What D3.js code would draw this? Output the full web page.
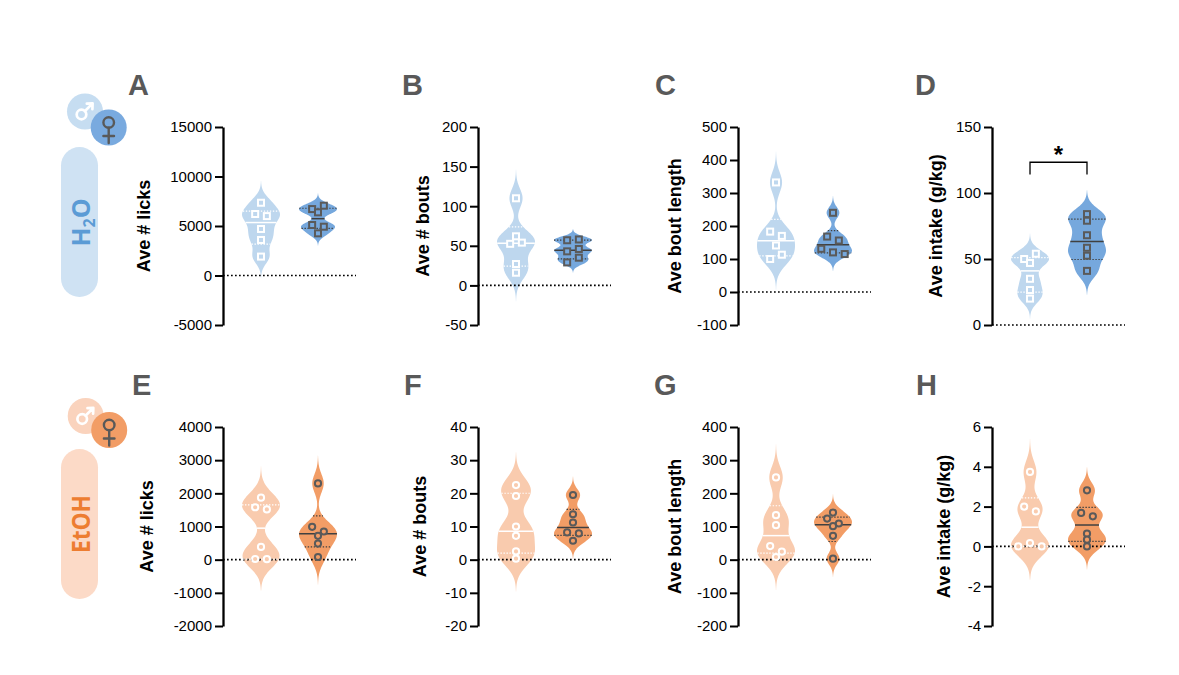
<!DOCTYPE html>
<html>
<head>
<meta charset="utf-8">
<script src="https://cdn.jsdelivr.net/npm/d3@7"></script>
<style>
  body { margin: 0; background: #fff; }
  svg { display: block; }
  text { font-family: "Liberation Sans", Arial, sans-serif; }
</style>
</head>
<body>
<svg width="1179" height="675"></svg>
<script>
// ---- data (male, female) ----
// H2O row
const licksH2O_M   = [7350, 6210, 6000, 4700, 3590, 1910];
const licksH2O_F   = [6710, 7050, 6380, 5100, 4930, 4260];
const boutsH2O_M   = [110, 62, 52.5, 54, 27, 16];
const boutsH2O_F   = [57, 58, 43, 46, 29, 35];
const boutLenH2O_M = [332, 183, 170, 141, 100, 113];
const boutLenH2O_F = [240, 168, 156, 131, 120, 115];
const intakeH2O_M  = [50, 54, 47, 35, 26.5, 20];
const intakeH2O_F  = [84, 79, 68, 58.5, 52.5, 41];
// EtOH row
const licksEtOH_M   = [1870, 1580, 1515, 385, 20, 15];
const licksEtOH_F   = [2300, 990, 850, 720, 485, 80];
const boutsEtOH_M   = [22.5, 19.2, 10, 7.2, 2.5, 0.3];
const boutsEtOH_F   = [19.5, 13.7, 11.2, 8.2, 7.9, 5.7];
const boutLenEtOH_M = [248, 134, 104, 41, 24, 8];
const boutLenEtOH_F = [142, 124, 109, 101, 72, 3];
const intakeEtOH_M  = [3.74, 2.0, 1.76, 0, 0.17, 0];
const intakeEtOH_F  = [2.82, 1.68, 1.51, 0.64, 0.34, 0];

const groups = ["M", "F"];
const yTitles = ["Ave # licks", "Ave # bouts", "Ave bout length", "Ave intake (g/kg)"];
const ticksH2O = [
  [-5000, 0, 5000, 10000, 15000],
  [-50, 0, 50, 100, 150, 200],
  [-100, 0, 100, 200, 300, 400, 500],
  [0, 50, 100, 150]
];
const ticksEtOH = [
  [-2000, -1000, 0, 1000, 2000, 3000, 4000],
  [-20, -10, 0, 10, 20, 30, 40],
  [-200, -100, 0, 100, 200, 300, 400],
  [-4, -2, 0, 2, 4, 6]
];
const lettersH2O = ["A", "B", "C", "D"];
const lettersEtOH = ["E", "F", "G", "H"];
// significance: panel D, male vs female
const sigLabel = "*";
const sigBracket = [114, 123.3];

// ---- layout ----
const svg = d3.select("svg");
const axisX = [223, 478, 738, 992];
const plotW = 133;
const rows = [
  {
    top: 127, bottom: 325, letterY: 95,
    letterX: [128, 402, 655, 915], titleDx: [-73, -49, -57, -50],
    data: [[licksH2O_M, licksH2O_F], [boutsH2O_M, boutsH2O_F], [boutLenH2O_M, boutLenH2O_F], [intakeH2O_M, intakeH2O_F]],
    ticks: ticksH2O, letters: lettersH2O,
    fill: ["#bed7ee", "#76a8dd"], marker: "square"
  },
  {
    top: 427, bottom: 626, letterY: 395,
    letterX: [132, 404, 654, 916], titleDx: [-70, -52, -57, -42],
    data: [[licksEtOH_M, licksEtOH_F], [boutsEtOH_M, boutsEtOH_F], [boutLenEtOH_M, boutLenEtOH_F], [intakeEtOH_M, intakeEtOH_F]],
    ticks: ticksEtOH, letters: lettersEtOH,
    fill: ["#f9cbae", "#f29d66"], marker: "circle"
  }
];
const lineCol = ["#ffffff", "#404040"];
const markStroke = ["#ffffff", "#5a5a5a"];
const halfW = 19;

// quartiles the way Prism does them: position p*(n+1)
function quant(sorted, p) {
  const n = sorted.length, pos = p * (n + 1);
  if (pos <= 1) return sorted[0];
  if (pos >= n) return sorted[n - 1];
  const i = Math.floor(pos);
  return sorted[i - 1] + (pos - i) * (sorted[i] - sorted[i - 1]);
}

// gaussian kernel density, bandwidth = half of Silverman's rule
function kde(values) {
  const sd = d3.deviation(values);
  const h = 0.5 * 1.06 * sd * Math.pow(values.length, -0.2);
  const f = v => d3.sum(values, x => Math.exp(-0.5 * ((v - x) / h) ** 2));
  const lo = d3.min(values) - 3 * h, hi = d3.max(values) + 3 * h;
  const pts = d3.range(161).map(i => lo + (hi - lo) * i / 160);
  const maxD = d3.max(pts, f);
  return { pts, w: v => f(v) / maxD };
}

// group close points into rows and spread them sideways
function swarm(values, y) {
  const ps = values.map((v, i) => ({ v, i, py: y(v) })).sort((a, b) => a.py - b.py);
  const bins = [];
  let cur = null;
  ps.forEach(p => {
    if (cur && p.py - cur[0].py < 5.8) cur.push(p);
    else { cur = [p]; bins.push(cur); }
  });
  bins.forEach(b => {
    b.sort((a, c) => a.i - c.i);
    b.forEach((p, k) => p.dx = (k - (b.length - 1) / 2) * 11.7);
  });
  return ps;
}

rows.forEach((row, r) => {
  row.data.forEach((pair, c) => {
    const ax = axisX[c];
    const ticks = row.ticks[c];
    const y = d3.scaleLinear().domain(d3.extent(ticks)).range([row.bottom, row.top]);
    const x = d3.scalePoint().domain(groups).range([ax, ax + plotW]).padding(0.667);
    const g = svg.append("g");

    // violins
    pair.forEach((vals, k) => {
      const cx = x(groups[k]);
      const d = kde(vals);
      g.append("path")
        .attr("d", d3.area()
          .y(v => y(v))
          .x0(v => cx - halfW * d.w(v))
          .x1(v => cx + halfW * d.w(v))(d.pts))
        .attr("fill", row.fill[k]);
    });

    // zero line
    g.append("line")
      .attr("x1", ax).attr("x2", ax + plotW)
      .attr("y1", y(0)).attr("y2", y(0))
      .attr("stroke", "#000").attr("stroke-width", 1.7)
      .attr("stroke-dasharray", "1.7,2.3");

    // median + quartiles
    pair.forEach((vals, k) => {
      const cx = x(groups[k]);
      const d = kde(vals);
      const s = vals.slice().sort(d3.ascending);
      [[0.25, true], [0.5, false], [0.75, true]].forEach(([p, dotted]) => {
        const q = quant(s, p);
        const hw = halfW * d.w(q);
        g.append("line")
          .attr("x1", cx - hw).attr("x2", cx + hw)
          .attr("y1", y(q)).attr("y2", y(q))
          .attr("stroke", lineCol[k])
          .attr("stroke-width", dotted ? 1.2 : 1.5)
          .attr("stroke-dasharray", dotted ? "1.4,1.6" : null);
      });
    });

    // points
    pair.forEach((vals, k) => {
      const cx = x(groups[k]);
      const pts = swarm(vals, y);
      const sel = g.append("g")
        .attr("fill", row.fill[k])
        .attr("stroke", markStroke[k])
        .attr("stroke-width", 2);
      if (row.marker === "square") {
        sel.selectAll("rect").data(pts).enter().append("rect")
          .attr("x", p => cx + p.dx - 3).attr("y", p => p.py - 3)
          .attr("width", 6).attr("height", 6);
      } else {
        sel.selectAll("circle").data(pts).enter().append("circle")
          .attr("cx", p => cx + p.dx).attr("cy", p => p.py).attr("r", 3.1);
      }
    });

    // axis
    const axis = g.append("g")
      .attr("transform", `translate(${ax},0)`)
      .call(d3.axisLeft(y).tickValues(ticks).tickSize(8).tickSizeOuter(0).tickPadding(3));
    axis.select(".domain").attr("stroke", "#000").attr("stroke-width", 2.3);
    axis.selectAll(".tick line").attr("stroke", "#000").attr("stroke-width", 2);
    axis.selectAll(".tick text")
      .attr("fill", "#000")
      .style("font-size", "15px")
      .style("font-family", '"Liberation Sans", Arial, sans-serif')
      .text(t => t < 0 ? "-" + Math.abs(t) : t);

    // y title
    g.append("text")
      .attr("transform", `translate(${ax + row.titleDx[c]},${(row.top + row.bottom) / 2}) rotate(-90)`)
      .attr("text-anchor", "middle")
      .style("font-size", "18px").style("font-weight", "bold")
      .attr("fill", "#000")
      .text(yTitles[c]);

    // panel letter
    g.append("text")
      .attr("x", row.letterX[c]).attr("y", row.letterY)
      .style("font-size", "29px").style("font-weight", "bold")
      .attr("fill", "#595959")
      .text(row.letters[c]);

    // significance bracket on intake (water)
    if (r === 0 && c === 3) {
      const x0 = x("M"), x1 = x("F");
      g.append("path")
        .attr("d", `M${x0},${y(sigBracket[0])}V${y(sigBracket[1])}H${x1}V${y(sigBracket[0])}`)
        .attr("fill", "none").attr("stroke", "#000").attr("stroke-width", 1.3);
      g.append("text")
        .attr("x", (x0 + x1) / 2).attr("y", y(sigBracket[1]) + 1)
        .attr("text-anchor", "middle")
        .style("font-size", "24px").style("font-weight", "bold")
        .text(sigLabel);
    }
  });
});

// ---- left side badges ----
function badge(cfg) {
  const g = svg.append("g");
  g.append("rect")
    .attr("x", 61).attr("y", cfg.pillY).attr("width", 37).attr("height", 150)
    .attr("rx", 18.5).attr("fill", cfg.pill);
  g.append("circle").attr("cx", cfg.male[0]).attr("cy", cfg.male[1]).attr("r", 18).attr("fill", cfg.maleFill);
  g.append("circle").attr("cx", cfg.female[0]).attr("cy", cfg.female[1]).attr("r", 18).attr("fill", cfg.femaleFill);

  // male sign
  const [mx, my] = cfg.male;
  const m = g.append("g").attr("fill", "none").attr("stroke", "#fff").attr("stroke-width", 2.7)
    .attr("stroke-linecap", "round").attr("stroke-linejoin", "round");
  m.append("circle").attr("cx", mx - 3.5).attr("cy", my + 3).attr("r", 4.8);
  m.append("path").attr("d", `M${mx - 0.2},${my - 0.3}L${mx + 7.6},${my - 8.1}M${mx + 1.8},${my - 7.9}L${mx + 7.6},${my - 8.1}L${mx + 7.4},${my - 2.3}`);

  // female sign
  const [fx, fy] = cfg.female;
  const f = g.append("g").attr("fill", "none").attr("stroke", "#595959").attr("stroke-width", 2.4)
    .attr("stroke-linecap", "round");
  f.append("circle").attr("cx", fx).attr("cy", fy - 5).attr("r", 5.3);
  f.append("path").attr("d", `M${fx},${fy + 0.3}V${fy + 15.5}M${fx - 5.3},${fy + 8.5}H${fx + 5.3}`);

  const t = g.append("text")
    .attr("transform", `translate(89.5,${cfg.textY}) rotate(-90)`)
    .attr("text-anchor", "middle")
    .style("font-family", '"Open Sans", sans-serif')
    .style("font-size", "25px").style("font-weight", "bold")
    .attr("fill", cfg.textFill);
  cfg.text(t);
}

badge({
  pillY: 147, pill: "#cfe2f3",
  male: [85, 111.5], maleFill: "#c6ddf1",
  female: [108.7, 127.5], femaleFill: "#79aadf",
  textY: 222.5, textFill: "#5b9bd5",
  text: t => {
    t.append("tspan").text("H");
    t.append("tspan").attr("dy", 5).style("font-size", "16px").text("2");
    t.append("tspan").attr("dy", -5).text("O");
  }
});
badge({
  pillY: 449, pill: "#fcdac7",
  male: [85.7, 416], maleFill: "#fad3bd",
  female: [109.2, 430], femaleFill: "#f29d66",
  textY: 524, textFill: "#ed7d31",
  text: t => t.attr("textLength", 58).attr("lengthAdjust", "spacingAndGlyphs").text("EtOH")
});
</script>
</body>
</html>
